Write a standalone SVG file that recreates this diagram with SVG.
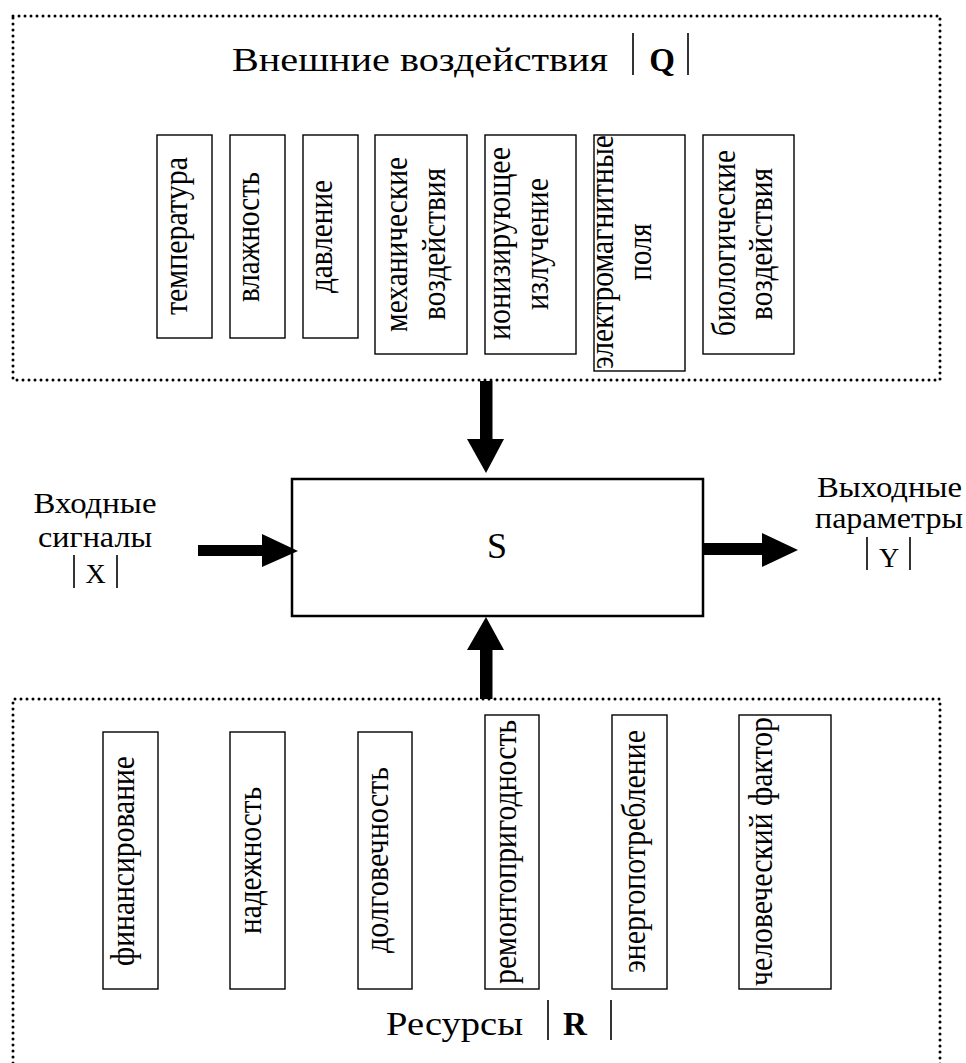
<svg xmlns="http://www.w3.org/2000/svg" width="966" height="1063" viewBox="0 0 966 1063">
  <style>
    text { font-family: "Liberation Serif", "Times New Roman", serif; fill: #000; }
    .frame { fill: none; stroke: #000; stroke-width: 3; stroke-dasharray: 0 6; stroke-linecap: round; }
    .item { fill: #fff; stroke: #000; stroke-width: 1.4; }
    .core { fill: #fff; stroke: #000; stroke-width: 2.5; }
    .bar { stroke: #000; stroke-width: 1.6; }
    .vt { font-size: 29px; }
    .lbl { font-size: 30px; }
    .head { font-size: 33px; }
    .arrow { fill: #000; stroke: none; }
  </style>

  <!-- outer frames -->
  <path id="frame-q" class="frame" d="M13,16 H940 V380 H13 Z"/>
  <path id="frame-r" class="frame" d="M13,1075 V699 H940 V1075"/>

  <!-- external influences title -->
  <g id="title-q">
    <text class="head" x="232" y="71" textLength="376" lengthAdjust="spacingAndGlyphs">Внешние воздействия</text>
    <line class="bar" x1="633" y1="33" x2="633" y2="75"/>
    <text class="head" x="662" y="71" text-anchor="middle" font-weight="bold">Q</text>
    <line class="bar" x1="688" y1="33" x2="688" y2="75"/>
  </g>

  <!-- external influence items -->
  <g id="q-temperature">
    <rect class="item" x="157" y="135" width="55" height="203"/>
    <text class="vt" transform="translate(187,236) scale(1.15,1) rotate(-90)" text-anchor="middle" textLength="158" lengthAdjust="spacingAndGlyphs">температура</text>
  </g>
  <g id="q-humidity">
    <rect class="item" x="230" y="135" width="55" height="203"/>
    <text class="vt" transform="translate(259,237) scale(1.15,1) rotate(-90)" text-anchor="middle" textLength="130" lengthAdjust="spacingAndGlyphs">влажность</text>
  </g>
  <g id="q-pressure">
    <rect class="item" x="303" y="135" width="55" height="203"/>
    <text class="vt" transform="translate(332,236.5) scale(1.15,1) rotate(-90)" text-anchor="middle" textLength="113" lengthAdjust="spacingAndGlyphs">давление</text>
  </g>
  <g id="q-mechanical">
    <rect class="item" x="375" y="135" width="92" height="219"/>
    <text class="vt" transform="translate(407,244.5) scale(1.15,1) rotate(-90)" text-anchor="middle" textLength="175" lengthAdjust="spacingAndGlyphs">механические</text>
    <text class="vt" transform="translate(445,244) scale(1.15,1) rotate(-90)" text-anchor="middle" textLength="152" lengthAdjust="spacingAndGlyphs">воздействия</text>
  </g>
  <g id="q-ionizing">
    <rect class="item" x="485" y="135" width="91" height="219"/>
    <text class="vt" transform="translate(510,243.5) scale(1.15,1) rotate(-90)" text-anchor="middle" textLength="193" lengthAdjust="spacingAndGlyphs">ионизирующее</text>
    <text class="vt" transform="translate(548,244) scale(1.15,1) rotate(-90)" text-anchor="middle" textLength="132" lengthAdjust="spacingAndGlyphs">излучение</text>
  </g>
  <g id="q-em-fields">
    <rect class="item" x="594" y="135" width="91" height="236"/>
    <text class="vt" transform="translate(613,252) scale(1.15,1) rotate(-90)" text-anchor="middle" textLength="234" lengthAdjust="spacingAndGlyphs">электромагнитные</text>
    <text class="vt" transform="translate(651,252) scale(1.15,1) rotate(-90)" text-anchor="middle" textLength="57" lengthAdjust="spacingAndGlyphs">поля</text>
  </g>
  <g id="q-biological">
    <rect class="item" x="703" y="135" width="91" height="219"/>
    <text class="vt" transform="translate(735,243) scale(1.15,1) rotate(-90)" text-anchor="middle" textLength="186" lengthAdjust="spacingAndGlyphs">биологические</text>
    <text class="vt" transform="translate(772,244) scale(1.15,1) rotate(-90)" text-anchor="middle" textLength="152" lengthAdjust="spacingAndGlyphs">воздействия</text>
  </g>

  <!-- system block -->
  <g id="system-s">
    <rect class="core" x="292" y="479" width="411" height="137"/>
    <text x="497" y="558" text-anchor="middle" font-size="36">S</text>
  </g>

  <!-- input signals label -->
  <g id="input-x">
    <text class="lbl" x="95" y="513" text-anchor="middle" textLength="123" lengthAdjust="spacingAndGlyphs">Входные</text>
    <text class="lbl" x="95" y="547" text-anchor="middle" textLength="114" lengthAdjust="spacingAndGlyphs">сигналы</text>
    <line class="bar" x1="74" y1="555" x2="74" y2="588"/>
    <text x="95.5" y="583" text-anchor="middle" font-size="28">X</text>
    <line class="bar" x1="117" y1="555" x2="117" y2="588"/>
  </g>

  <!-- output parameters label -->
  <g id="output-y">
    <text class="lbl" x="889.5" y="497" text-anchor="middle" textLength="145" lengthAdjust="spacingAndGlyphs">Выходные</text>
    <text class="lbl" x="889" y="528" text-anchor="middle" textLength="148" lengthAdjust="spacingAndGlyphs">параметры</text>
    <line class="bar" x1="867" y1="537" x2="867" y2="570"/>
    <text x="889" y="567" text-anchor="middle" font-size="28">Y</text>
    <line class="bar" x1="910" y1="537" x2="910" y2="570"/>
  </g>

  <!-- resource items -->
  <g id="r-funding">
    <rect class="item" x="103" y="732" width="55" height="257"/>
    <text class="vt" transform="translate(134,861) scale(1.15,1) rotate(-90)" text-anchor="middle" textLength="210" lengthAdjust="spacingAndGlyphs">финансирование</text>
  </g>
  <g id="r-reliability">
    <rect class="item" x="230" y="732" width="55" height="257"/>
    <text class="vt" transform="translate(261,860.5) scale(1.15,1) rotate(-90)" text-anchor="middle" textLength="147" lengthAdjust="spacingAndGlyphs">надежность</text>
  </g>
  <g id="r-durability">
    <rect class="item" x="358" y="732" width="54" height="257"/>
    <text class="vt" transform="translate(388,860) scale(1.15,1) rotate(-90)" text-anchor="middle" textLength="186" lengthAdjust="spacingAndGlyphs">долговечность</text>
  </g>
  <g id="r-maintainability">
    <rect class="item" x="485" y="715" width="54" height="274"/>
    <text class="vt" transform="translate(516,852) scale(1.15,1) rotate(-90)" text-anchor="middle" textLength="264" lengthAdjust="spacingAndGlyphs">ремонтопригодность</text>
  </g>
  <g id="r-energy">
    <rect class="item" x="612" y="715" width="55" height="274"/>
    <text class="vt" transform="translate(645,851.5) scale(1.15,1) rotate(-90)" text-anchor="middle" textLength="243" lengthAdjust="spacingAndGlyphs">энергопотребление</text>
  </g>
  <g id="r-human">
    <rect class="item" x="739" y="715" width="92" height="274"/>
    <text class="vt" transform="translate(772,851.5) scale(1.15,1) rotate(-90)" text-anchor="middle" textLength="269" lengthAdjust="spacingAndGlyphs">человеческий фактор</text>
  </g>

  <!-- resources title -->
  <g id="title-r">
    <text class="head" x="386" y="1035" textLength="137" lengthAdjust="spacingAndGlyphs">Ресурсы</text>
    <line class="bar" x1="548" y1="1000" x2="548" y2="1040"/>
    <text class="head" x="575" y="1035" text-anchor="middle" font-weight="bold">R</text>
    <line class="bar" x1="611" y1="1000" x2="611" y2="1040"/>
  </g>

  <!-- block arrows -->
  <g id="connectors">
    <path class="arrow" d="M480,381 H492.5 V439 H504 L486,473 L467,439 H480 Z"/>
    <path class="arrow" d="M486,617 L504,650 H492.5 V699 H480 V650 H467 Z"/>
    <path class="arrow" d="M198,545 H262 V534 L298,551 L262,567 V556 H198 Z"/>
    <path class="arrow" d="M703,543 H762 V533 L798,550 L762,567 V555 H703 Z"/>
  </g>
</svg>
